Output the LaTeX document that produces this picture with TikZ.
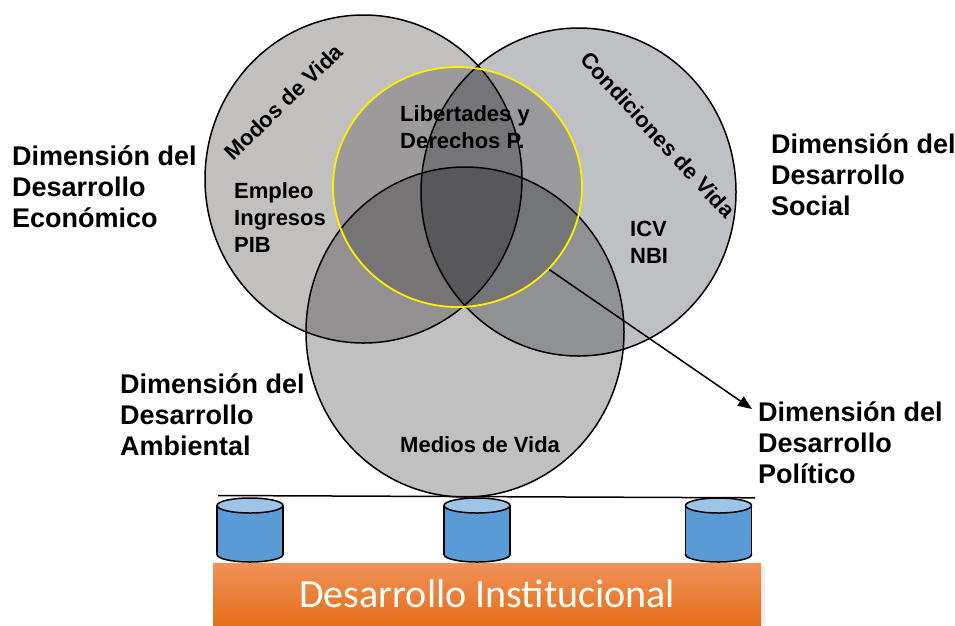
\documentclass[tikz,border=0pt]{standalone}
\usepackage{fontspec}
\setmainfont{Liberation Sans}
\newfontfamily\calibfont{Carlito}
\usetikzlibrary{arrows.meta,shapes.geometric}
\definecolor{lfill}{RGB}{14,7,0}
\definecolor{rfill}{RGB}{0,5,16}
\definecolor{bfill}{RGB}{4,4,4}
\definecolor{yfill}{RGB}{6,6,8}
\definecolor{cylbody}{RGB}{91,155,213}
\definecolor{cyltop}{RGB}{157,195,230}
\definecolor{orangetop}{RGB}{241,146,88}
\definecolor{orangebot}{RGB}{228,110,25}
\definecolor{yline}{RGB}{255,240,0}
\begin{document}
\begin{tikzpicture}[x=1pt,y=-1pt,
  venn/.style={ellipse, draw=black, line width=1.5pt, fill opacity=0.25, inner sep=0pt},
  outer/.style={font=\fontsize{27}{31}\selectfont\bfseries, align=left, anchor=north west, inner sep=0pt},
  inner/.style={font=\fontsize{22}{27}\selectfont\bfseries, align=left, anchor=north west, inner sep=0pt},
  arclabel/.style={font=\fontsize{22}{27}\selectfont\bfseries, inner sep=0pt},
  cylline/.style={line width=1.5pt, draw=black}
]
\useasboundingbox (0,0) rectangle (955,625);
\fill[white] (0,0) rectangle (955,625);

% institutional bar
\fill[black!7] (216,566) rectangle (765,625);
\node[minimum width=548pt, minimum height=62pt, inner sep=0pt, anchor=north west,
      top color=orangetop, bottom color=orangebot, text=white,
      font=\calibfont\fontsize{40}{48}\selectfont] (inst) at (213,563) {Desarrollo Institucional};

% cylinders
\foreach \cx in {250,477,718.5}{
  \fill[cylbody] (\cx-33,505.5) rectangle (\cx+33,554.5);
  \fill[cylbody] (\cx,554.5) ellipse [x radius=33pt, y radius=7.5pt];
  \draw[cylline] (\cx-33,505.5) -- (\cx-33,554.5);
  \draw[cylline] (\cx+33,505.5) -- (\cx+33,554.5);
  \begin{scope}
    \clip (\cx-40,554.5) rectangle (\cx+40,570);
    \draw[cylline] (\cx,554.5) ellipse [x radius=33pt, y radius=7.5pt];
  \end{scope}
  \filldraw[cylline, fill=cyltop] (\cx,505.5) ellipse [x radius=33pt, y radius=7.5pt];
}

% base line
\coordinate (lineL) at (218,495.5);
\coordinate (lineR) at (755,497.8);
\draw[line width=1.5pt] (lineL) -- (lineR);

% Venn circles
\node[venn, fill=lfill, minimum width=317pt, minimum height=328pt] (econ) at (363.5,179) {};
\node[venn, fill=bfill, minimum width=318pt, minimum height=330pt] (amb) at (465,332) {};
\node[venn, fill=rfill, minimum width=315pt, minimum height=328pt] (soc) at (578.5,192) {};
\node[venn, fill=yfill, fill opacity=0.2, draw=yline, line width=1.8pt, minimum width=249pt, minimum height=240pt] (pol) at (457.5,187) {};

% inner labels
\node[arclabel, rotate=44] (modos) at (283.5,102) {Modos de Vida};
\node[arclabel, rotate=-47.4] (cond) at (658,135) {Condiciones de Vida};
\node[inner] (emp) at (234,182) {Empleo\\Ingresos\\PIB};
\node[inner] (lib) at (400,105) {Libertades y\\Derechos P.};
\node[inner] (icv) at (630,221) {ICV\\NBI};
\node[inner] (med) at (400,436) {Medios de Vida};

% outer labels
\node[outer] (econL) at (12,145) {Dimensión del\\Desarrollo\\Económico};
\node[outer] (socL) at (771,133) {Dimensión del\\Desarrollo\\Social};
\node[outer] (ambL) at (120,373) {Dimensión del\\Desarrollo\\Ambiental};
\node[outer] (polL) at (758,401) {Dimensión del\\Desarrollo\\Político};

% arrow
\coordinate (arrowEnd) at (752,409);
\draw[line width=1.5pt, -{Triangle[length=14pt, width=11pt]}] (pol.-42.5) -- (arrowEnd);
\end{tikzpicture}
\end{document}
